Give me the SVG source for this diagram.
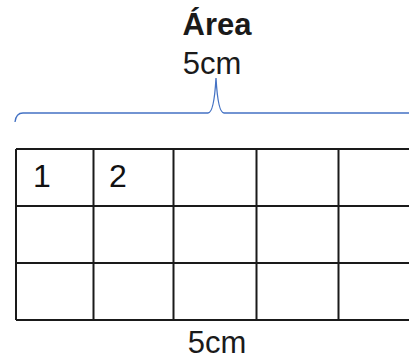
<svg xmlns="http://www.w3.org/2000/svg" width="409" height="360" viewBox="0 0 409 360">
<style>
.t{font-family:"Liberation Sans",Arial,sans-serif;fill:#1a1a1a;font-size:31px}
.g{stroke:#1a1a1a;stroke-width:2;fill:none}
.b{stroke:#4472c4;stroke-width:1.3;fill:none}
.n{font-family:"Liberation Sans",Arial,sans-serif;font-size:32px;fill:#111}
</style>
<rect width="409" height="360" fill="#fff"/>
<g id="title">
<text class="t" x="217" y="35" font-weight="bold" text-anchor="middle">Área</text>
<text class="t" x="212" y="74" text-anchor="middle">5cm</text>
</g>
<g id="brace">
<path class="b" d="M15,122 Q16,113 23,113 L208,113 Q214,113 216,78 Q218,113 224,113 L410,113"/>
</g>
<g id="grid">
<path class="g" d="M16,149 H412 M16,206 H412 M16,263 H412 M16,320 H412 M16,149 V320 M93.5,149 V320 M173.5,149 V320 M256.5,149 V320 M338.5,149 V320"/>
<text class="n" x="33" y="187">1</text>
<text class="n" x="109" y="187">2</text>
</g>
<g id="bottom">
<text class="t" x="217" y="353" text-anchor="middle">5cm</text>
</g>
</svg>
